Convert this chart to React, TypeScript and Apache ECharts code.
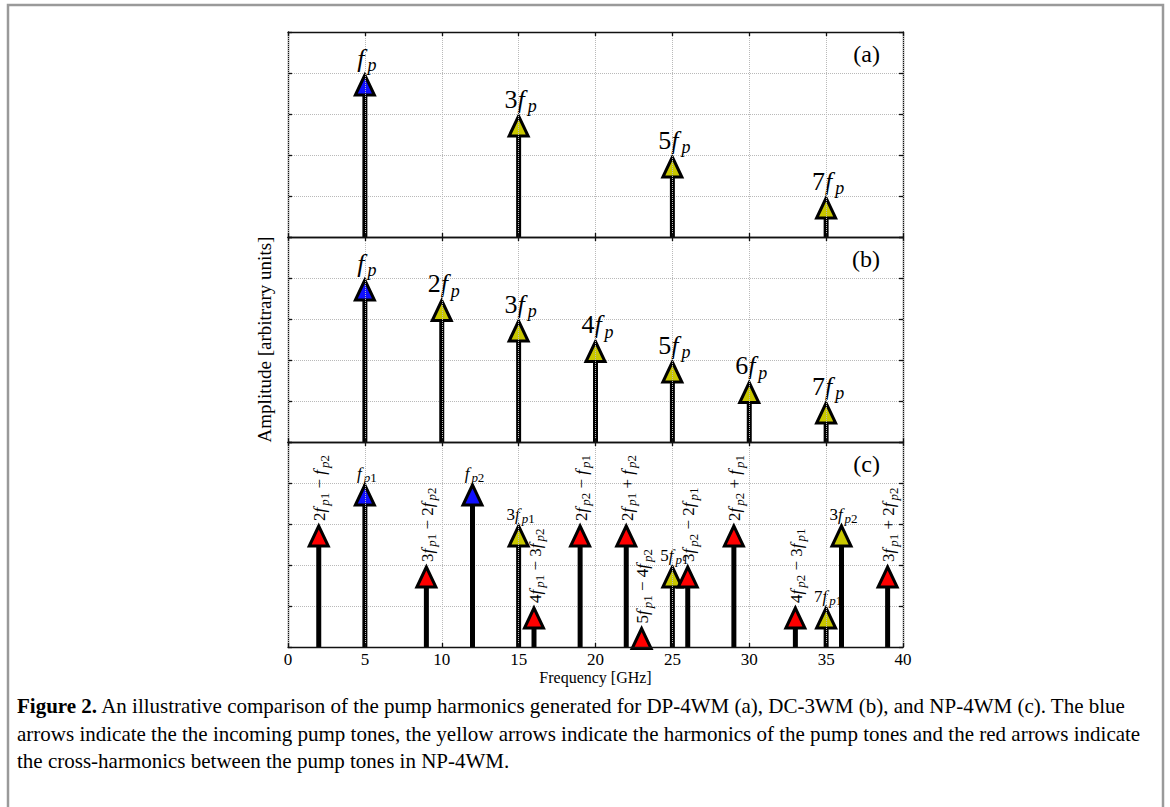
import React, { useEffect, useRef } from 'react';
import * as echarts from 'echarts';

const FONT = "'Liberation Serif', 'Times New Roman', serif";

// Panel (a): DP-4WM
const freqA = [5, 15, 25, 35];
const ampA = [4, 3, 2, 1];
const kindA = ['pump', 'harm', 'harm', 'harm'];
const labelA = ['f_{p}', '3f_{p}', '5f_{p}', '7f_{p}'];

// Panel (b): DC-3WM
const freqB = [5, 10, 15, 20, 25, 30, 35];
const ampB = [4, 3.5, 3, 2.5, 2, 1.5, 1];
const kindB = ['pump', 'harm', 'harm', 'harm', 'harm', 'harm', 'harm'];
const labelB = ['f_{p}', '2f_{p}', '3f_{p}', '4f_{p}', '5f_{p}', '6f_{p}', '7f_{p}'];

// Panel (c): NP-4WM
const freqC = [2, 5, 9, 12, 15, 16, 19, 22, 23, 25, 26, 29, 33, 35, 36, 39];
const ampC = [3, 4, 2, 4, 3, 1, 3, 3, 0.5, 2, 2, 3, 1, 1, 3, 2];
const kindC = [
  'cross', 'pump', 'cross', 'pump', 'harm', 'cross', 'cross', 'cross',
  'cross', 'harm', 'cross', 'cross', 'cross', 'harm', 'harm', 'cross',
];
const labelC = [
  '2f_{p1} − f_{p2}', 'f_{p1}', '3f_{p1} − 2f_{p2}', 'f_{p2}', '3f_{p1}',
  '4f_{p1} − 3f_{p2}', '2f_{p2} − f_{p1}', '2f_{p1} + f_{p2}', '5f_{p1} − 4f_{p2}',
  '5f_{p1}', '3f_{p2} − 2f_{p1}', '2f_{p2} + f_{p1}', '4f_{p2} − 3f_{p1}',
  '7f_{p1}', '3f_{p2}', '3f_{p1} + 2f_{p2}',
];

const panelTags = ['(a)', '(b)', '(c)'];

const captionLines = [
  ['Figure 2.', ' An illustrative comparison of the pump harmonics generated for DP-4WM (a), DC-3WM (b), and NP-4WM (c). The blue'],
  ['', 'arrows indicate the the incoming pump tones, the yellow arrows indicate the harmonics of the pump tones and the red arrows indicate'],
  ['', 'the cross-harmonics between the pump tones in NP-4WM.'],
];

const KIND_COLOR: Record<string, string> = {
  pump: '#1010ff',
  harm: '#c9c700',
  cross: '#ff0000',
};

// Convert "3f_{p1} − 2f_{p2}" into ECharts rich-text markup.
function toRich(label: string): string {
  let out = '';
  let i = 0;
  while (i < label.length) {
    const ch = label[i];
    if (ch === 'f' && label[i + 1] === '_') {
      const end = label.indexOf('}', i);
      const sub = label.slice(i + 3, end); // e.g. "p1"
      out += '{f|f}{s|' + sub[0] + '}';
      if (sub.length > 1) out += '{sn|' + sub.slice(1) + '}';
      i = end + 1;
    } else if (/\d/.test(ch)) {
      out += '{n|' + ch + '}';
      i += 1;
    } else if (ch === ' ') {
      out += '{o|' + label.slice(i, i + 3) + '}';
      i += 3;
    } else {
      out += '{n|' + ch + '}';
      i += 1;
    }
  }
  return out;
}

function richStyles(big: boolean) {
  const main = big ? 26 : 17;
  const sub = big ? 18 : 13;
  const lh = big ? 32 : 22;
  const slh = big ? 14 : 10;
  const gap = big ? 3 : 2;
  const base = { fontFamily: FONT, color: '#000' };
  return {
    n: { ...base, fontSize: main, lineHeight: lh },
    o: { ...base, fontSize: main, lineHeight: lh },
    f: { ...base, fontSize: main, lineHeight: lh, fontStyle: 'italic' },
    s: {
      ...base, fontSize: sub, lineHeight: slh, fontStyle: 'italic',
      verticalAlign: 'bottom', padding: [0, 0, 0, gap],
    },
    sn: { ...base, fontSize: sub, lineHeight: slh, verticalAlign: 'bottom' },
  };
}

function arrowRenderer(labels: string[], kinds: string[], big: boolean) {
  const rich = richStyles(big);
  return (params: any, api: any) => {
    const i = params.dataIndex;
    const x = api.value(0);
    const v = api.value(1);
    const base = api.coord([x, 0]);
    const tip = api.coord([x, v]);
    const hw = 9.5;
    const hh = 20;
    const tx = tip[0];
    const ty = tip[1] + 2;
    const shaftTop = ty + hh - 1;
    const label = labels[i];
    const rotated = label.indexOf(' ') >= 0;
    const children: any[] = [
      {
        type: 'rect',
        shape: { x: tx - 2.5, y: shaftTop, width: 5, height: Math.max(0, base[1] - shaftTop) },
        style: { fill: '#000' },
      },
      {
        type: 'polygon',
        shape: { points: [[tx, ty], [tx - hw, ty + hh], [tx + hw, ty + hh]] },
        style: { fill: KIND_COLOR[kinds[i]], stroke: '#000', lineWidth: 3, lineJoin: 'miter' },
      },
    ];
    if (rotated) {
      children.push({
        type: 'text',
        x: tx + 1,
        y: ty - 5,
        rotation: Math.PI / 2,
        style: { text: toRich(label), rich, align: 'left', verticalAlign: 'middle' },
      });
    } else {
      children.push({
        type: 'text',
        x: tx + 2,
        y: ty - 1,
        style: { text: toRich(label), rich, align: 'center', verticalAlign: 'bottom' },
      });
    }
    return { type: 'group', children };
  };
}

const GRID_LEFT = 288;
const GRID_W = 615;
const GRID_TOPS = [32, 237, 442];
const GRID_H = 205;

export default function App() {
  const ref = useRef<HTMLDivElement>(null);

  useEffect(() => {
    if (!ref.current) return;
    const chart = echarts.init(ref.current, undefined, { renderer: 'svg' });

    const frame = { show: true, onZero: false, lineStyle: { color: '#111', width: 1.3 } };
    const tick = { show: true, inside: true, length: 4, lineStyle: { color: '#111', width: 1.3 } };
    const grid = { show: true, lineStyle: { color: '#b9b9b9', type: 'dotted', width: 1 } };

    const xAxis: any[] = [];
    const yAxis: any[] = [];
    GRID_TOPS.forEach((_, g) => {
      xAxis.push({
        type: 'value', gridIndex: g, position: 'bottom', min: 0, max: 40, interval: 5,
        axisLine: frame, axisTick: tick, splitLine: grid, z: 3,
        axisLabel: g === 2
          ? { show: true, color: '#000', fontFamily: FONT, fontSize: 17, margin: 4 }
          : { show: false },
        name: g === 2 ? 'Frequency [GHz]' : '',
        nameLocation: 'middle', nameGap: 22,
        nameTextStyle: { color: '#000', fontFamily: FONT, fontSize: 16 },
      });
      xAxis.push({
        type: 'value', gridIndex: g, position: 'top', min: 0, max: 40, interval: 5,
        axisLine: frame, axisTick: tick, splitLine: { show: false }, axisLabel: { show: false }, z: 3,
      });
      yAxis.push({
        type: 'value', gridIndex: g, position: 'left', min: 0, max: 5, interval: 1,
        axisLine: frame, axisTick: tick, splitLine: grid, axisLabel: { show: false },
        name: g === 1 ? 'Amplitude [arbitrary units]' : '',
        nameLocation: 'middle', nameGap: 14, nameRotate: 90,
        nameTextStyle: { color: '#000', fontFamily: FONT, fontSize: 19 },
      });
      yAxis.push({
        type: 'value', gridIndex: g, position: 'right', min: 0, max: 5, interval: 1,
        axisLine: frame, axisTick: tick, splitLine: { show: false }, axisLabel: { show: false },
      });
    });

    const panels = [
      { freq: freqA, amp: ampA, kind: kindA, label: labelA, big: true },
      { freq: freqB, amp: ampB, kind: kindB, label: labelB, big: true },
      { freq: freqC, amp: ampC, kind: kindC, label: labelC, big: false },
    ];

    const series = panels.map((p, g) => ({
      type: 'custom',
      xAxisIndex: 2 * g,
      yAxisIndex: 2 * g,
      clip: false,
      z: 2,
      data: p.freq.map((f, i) => [f, p.amp[i]]),
      renderItem: arrowRenderer(p.label, p.kind, p.big),
    }));

    const graphic: any[] = [
      {
        type: 'rect', z: -1, silent: true,
        shape: { x: 8, y: 5, width: 1155, height: 900 },
        style: { fill: 'none', stroke: '#9a9a9a', lineWidth: 2.5 },
      },
      ...panelTags.map((t, g) => ({
        type: 'text',
        x: GRID_LEFT + GRID_W - 23,
        y: GRID_TOPS[g] + 22,
        style: { text: t, align: 'right', verticalAlign: 'middle', font: `24px ${FONT}`, fill: '#000' },
      })),
      ...captionLines.map((ln, k) => ({
        type: 'text',
        x: 17,
        y: 706 + k * 27.5,
        style: {
          text: (ln[0] ? '{b|' + ln[0] + '}' : '') + '{r|' + ln[1] + '}',
          align: 'left',
          verticalAlign: 'middle',
          rich: {
            b: { fontFamily: FONT, fontSize: 21, fontWeight: 'bold', color: '#111' },
            r: { fontFamily: FONT, fontSize: 21, color: '#111' },
          },
        },
      })),
    ];

    chart.setOption({
      animation: false,
      backgroundColor: '#fff',
      grid: GRID_TOPS.map((t) => ({ left: GRID_LEFT, top: t, width: GRID_W, height: GRID_H })),
      xAxis,
      yAxis,
      series,
      graphic,
    });

    return () => chart.dispose();
  }, []);

  return (
    <div
      ref={ref}
      style={{ position: 'fixed', left: 0, top: 0, width: 1170, height: 807 }}
    />
  );
}
